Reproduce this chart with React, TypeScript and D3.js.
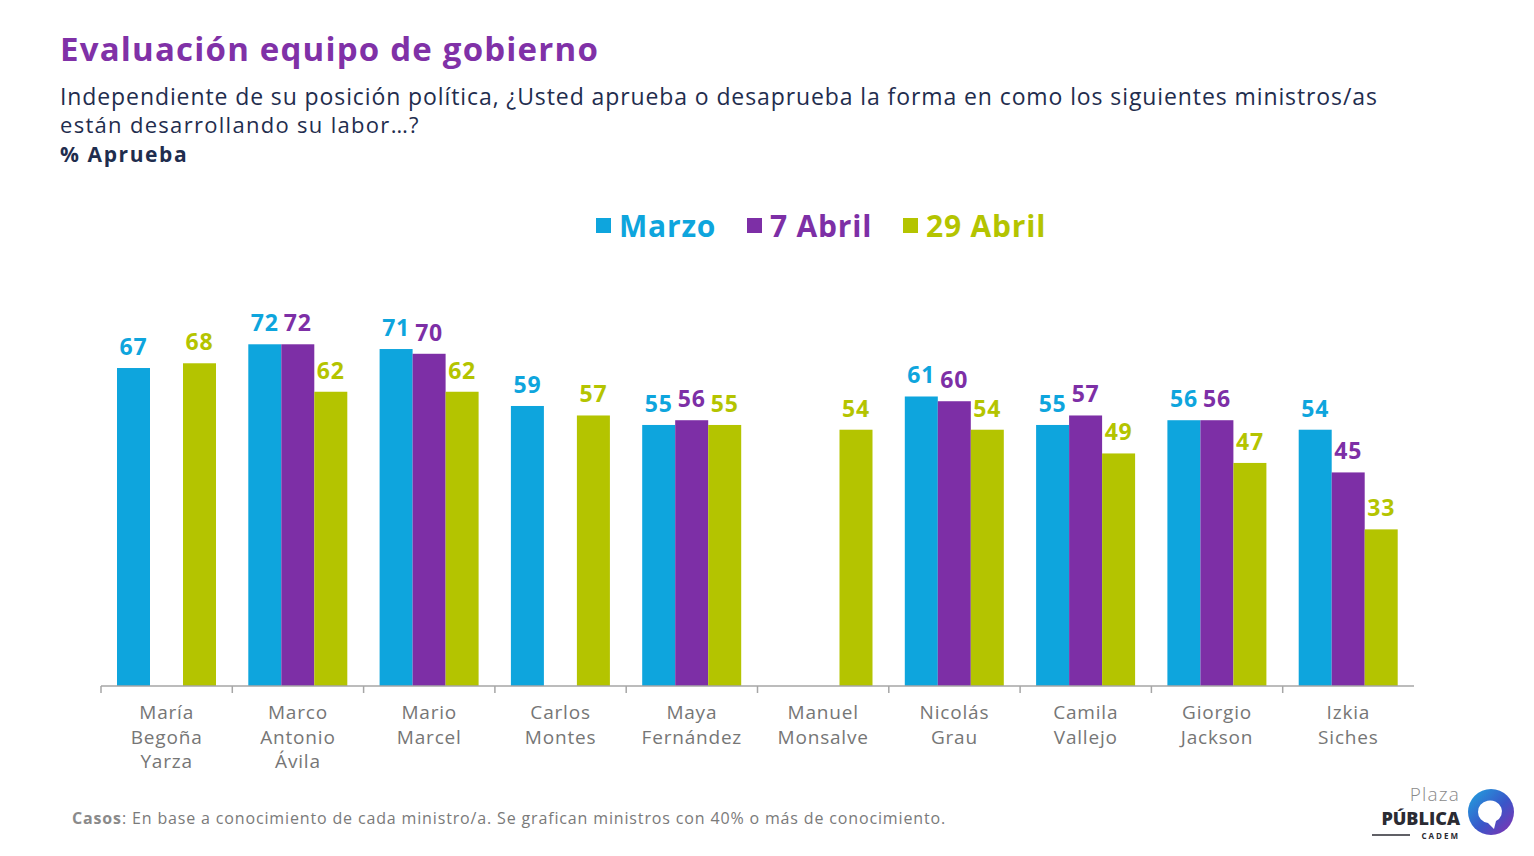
import * as d3 from "d3";

const categories = [
  ["María", "Begoña", "Yarza"],
  ["Marco", "Antonio", "Ávila"],
  ["Mario", "Marcel"],
  ["Carlos", "Montes"],
  ["Maya", "Fernández"],
  ["Manuel", "Monsalve"],
  ["Nicolás", "Grau"],
  ["Camila", "Vallejo"],
  ["Giorgio", "Jackson"],
  ["Izkia", "Siches"],
];

const seriesNames = ["Marzo", "7 Abril", "29 Abril"];
const seriesColors = ["#0ea5dd", "#7d2fa6", "#b4c400"];

const marzo = [67, 72, 71, 59, 55, null, 61, 55, 56, 54];
const abril7 = [null, 72, 70, null, 56, null, 60, 57, 56, 45];
const abril29 = [68, 62, 62, 57, 55, 54, 54, 49, 47, 33];

const seriesValues = [marzo, abril7, abril29];

const W = 1534;
const H = 856;
const FONT = "'Open Sans', 'DejaVu Sans', sans-serif";

const App = () => {
  const keys = categories.map((c) => c.join(" "));
  const x = d3.scaleBand<string>().domain(keys).range([101, 1414]).padding(0);
  const inner = d3
    .scaleBand<string>()
    .domain(seriesNames)
    .range([16, 115])
    .padding(0);
  const y = d3.scaleLinear().domain([0, 100]).range([686, 211.4]);
  const baseY = y(0);

  const legendX = [596, 747, 903];

  return (
    <svg
      width={W}
      height={H}
      style={{ position: "absolute", left: 0, top: 0, background: "#fff" }}
      fontFamily={FONT}
    >
      <rect width={W} height={H} fill="#fff" />
      <text x={60} y={61} fontSize={33} fontWeight={700} fill="#8031a7" letterSpacing={1.2}>
        Evaluación equipo de gobierno
      </text>
      <text x={60} y={105} fontSize={23} fill="#1f2d4e" letterSpacing={0.9}>
        Independiente de su posición política, ¿Usted aprueba o desaprueba la forma en como los siguientes ministros/as
      </text>
      <text x={60} y={133} fontSize={22} fill="#1f2d4e" letterSpacing={1.3}>
        están desarrollando su labor…?
      </text>
      <text x={60} y={162} fontSize={21} fontWeight={700} fill="#1f2d4e" letterSpacing={1.6}>
        % Aprueba
      </text>

      {/* Legend */}
      {seriesNames.map((s, i) => (
        <g key={s}>
          <rect x={legendX[i]} y={218} width={15} height={15} fill={seriesColors[i]} />
          <text
            x={legendX[i] + 23}
            y={237}
            fontSize={30}
            fontWeight={700}
            fill={seriesColors[i]}
            letterSpacing={0.8}
          >
            {s}
          </text>
        </g>
      ))}

      {/* Bars */}
      {keys.map((k, ci) => (
        <g key={k} transform={`translate(${x(k)},0)`}>
          {seriesValues.map((vals, si) => {
            const v = vals[ci];
            if (v == null) return null;
            const bx = inner(seriesNames[si])!;
            const bw = inner.bandwidth();
            return (
              <g key={si}>
                <rect
                  x={bx}
                  y={y(v)}
                  width={bw}
                  height={baseY - y(v)}
                  fill={seriesColors[si]}
                />
                <text
                  x={bx + bw / 2}
                  y={y(v) - 13}
                  textAnchor="middle"
                  fontSize={23}
                  fontWeight={700}
                  fill={seriesColors[si]}
                  letterSpacing={0.8}
                >
                  {v}
                </text>
              </g>
            );
          })}
        </g>
      ))}

      {/* Axis */}
      <line x1={101} x2={1414} y1={baseY} y2={baseY} stroke="#a6a6a6" strokeWidth={1.5} />
      {keys.map((k) => (
        <line
          key={k}
          x1={x(k)}
          x2={x(k)}
          y1={baseY}
          y2={baseY + 7}
          stroke="#a6a6a6"
          strokeWidth={1.5}
        />
      ))}
      {categories.map((lines, ci) => (
        <text
          key={keys[ci]}
          x={x(keys[ci])! + x.bandwidth() / 2}
          y={719}
          textAnchor="middle"
          fontSize={19}
          fill="#767676"
          letterSpacing={0.8}
        >
          {lines.map((l, li) => (
            <tspan key={li} x={x(keys[ci])! + x.bandwidth() / 2} dy={li === 0 ? 0 : 24.5}>
              {l}
            </tspan>
          ))}
        </text>
      ))}

      {/* Footer */}
      <text x={72} y={824} fontSize={16} fill="#7a7a7a" letterSpacing={0.85}>
        <tspan fontWeight={700} fill="#8a8a8a">Casos</tspan>
        <tspan>: En base a conocimiento de cada ministro/a. Se grafican ministros con 40% o más de conocimiento.</tspan>
      </text>

      {/* Logo */}
      <defs>
        <linearGradient id="logoGrad" x1="0" y1="0" x2="1" y2="1">
          <stop offset="0%" stopColor="#1fa6e0" />
          <stop offset="55%" stopColor="#3a55c8" />
          <stop offset="100%" stopColor="#8a2fb0" />
        </linearGradient>
      </defs>
      <text x={1460} y={801} textAnchor="end" fontSize={19} fill="#8a8a8a" fontWeight={300} letterSpacing={1.2}>
        Plaza
      </text>
      <text x={1460} y={825} textAnchor="end" fontSize={18} fontWeight={800} fill="#2b2b33">
        PÚBLICA
      </text>
      <line x1={1372} x2={1410} y1={835} y2={835} stroke="#2b2b33" strokeWidth={1.5} />
      <text x={1460} y={839} textAnchor="end" fontSize={8} fontWeight={700} fill="#2b2b33" letterSpacing={2}>
        CADEM
      </text>
      <circle cx={1491} cy={812} r={23} fill="url(#logoGrad)" />
      <path
        d="M1478,812 a12,11 0 1,1 18,9 l-2,8 l-6,-6 a12,11 0 0,1 -10,-11z"
        fill="#fff"
      />
    </svg>
  );
};

export default App;
